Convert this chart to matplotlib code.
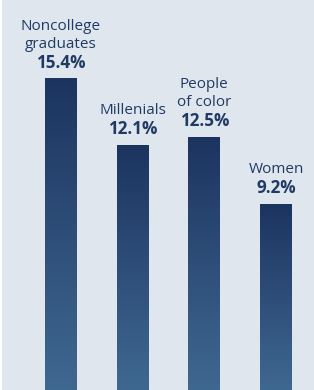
import numpy as np
import matplotlib.pyplot as plt
from matplotlib.colors import LinearSegmentedColormap

labels = ["Noncollege\ngraduates", "Millenials", "People\nof color", "Women"]
values = [15.4, 12.1, 12.5, 9.2]

bg = "#dfe6ed"
text_color = "#1f3a64"
cmap = LinearSegmentedColormap.from_list("bar", ["#3f6891", "#1c3460"])

fig = plt.figure(figsize=(3.14, 3.90), dpi=100)
ax = fig.add_axes([2 / 314, 0, 312 / 314, 1])
ax.set_facecolor(bg)
ax.axis("off")
ax.add_patch(plt.Rectangle((0, 0), 1, 1, transform=ax.transAxes, color=bg, zorder=0))

# each bar gets its own dark-to-light gradient
width = 0.446
grad = np.linspace(0, 1, 256).reshape(-1, 1)
for i, (lab, v) in enumerate(zip(labels, values)):
    ax.imshow(grad, cmap=cmap, origin="lower", aspect="auto",
              extent=(i - width / 2, i + width / 2, 0, v), zorder=2)
    ax.annotate(f"{v:.1f}%", (i, v), xytext=(0, 11), textcoords="offset pixels",
                ha="center", va="baseline", fontsize=12.3, fontweight="bold",
                color=text_color, family="Open Sans")
    ax.annotate(lab, (i, v), xytext=(0, 31), textcoords="offset pixels",
                ha="center", va="baseline", fontsize=11, linespacing=1.3,
                color=text_color, family="Open Sans")

ax.set_xlim(-0.823, 3.53)
ax.set_ylim(0, 19.3)
fig.savefig("out.png", dpi=100, facecolor="white")
